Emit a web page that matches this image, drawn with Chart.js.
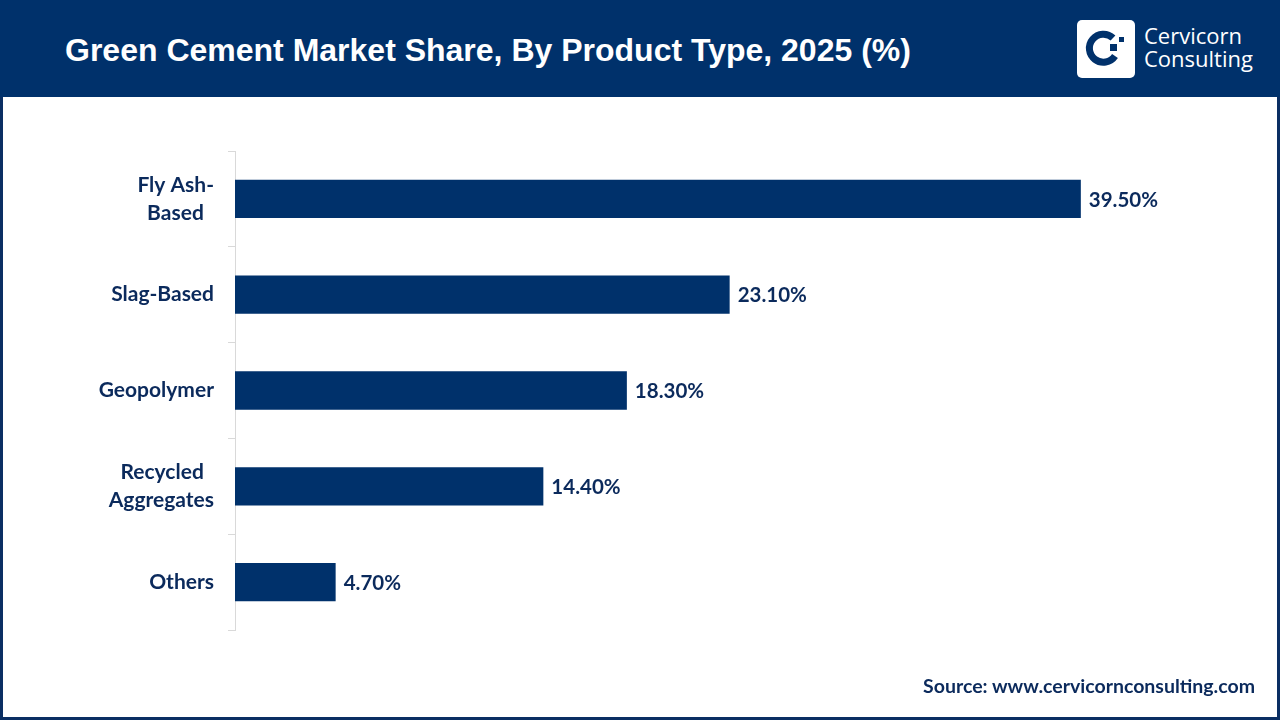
<!DOCTYPE html>
<html>
<head>
<meta charset="utf-8">
<script src="https://cdn.jsdelivr.net/npm/chart.js@4.4.1/dist/chart.umd.min.js"></script>
<style>
  html, body { margin: 0; padding: 0; width: 1280px; height: 720px; overflow: hidden; background: #fff; }
  #frame { position: absolute; left: 0; top: 0; width: 1280px; height: 720px; box-sizing: border-box;
           border: 3px solid #0b2f63; border-top: none; }
  #header { position: absolute; left: 0; top: 0; width: 1280px; height: 97px; background: #00316b; }
  #title { position: absolute; left: 65px; top: 31px; color: #fff; font-family: "Liberation Sans", Arial, sans-serif;
           font-weight: bold; font-size: 32px; line-height: 38px; white-space: nowrap; }
  #logoBox { position: absolute; left: 1077px; top: 20px; width: 58px; height: 58px; background: #fff; border-radius: 5px; }
  #logoText { position: absolute; left: 1144px; top: 24px; color: #fff; font-family: "Open Sans", sans-serif;
              font-size: 22px; line-height: 23px; }
  #source { position: absolute; right: 25px; top: 674px; color: #0b2a5c; font-family: Lato, "Open Sans", sans-serif;
            font-weight: bold; font-size: 19.5px; white-space: nowrap; }
  #wrap { position: absolute; left: 0; top: 97px; width: 1280px; height: 593px; }
</style>
</head>
<body>
<div id="frame"></div>
<div id="header"></div>
<div id="title">Green Cement Market Share, By Product Type, 2025 (%)</div>
<div id="logoBox">
  <svg width="58" height="58" viewBox="0 0 58 58">
    <path d="M36 18 A14 14 0 1 0 38 36" fill="none" stroke="#00316b" stroke-width="7" stroke-linecap="butt"/>
    <rect x="33" y="24" width="7" height="7" fill="#00316b"/>
    <rect x="42" y="17" width="5" height="5" fill="#00316b"/>
  </svg>
</div>
<div id="logoText">Cervicorn<br>Consulting</div>
<div id="wrap"><canvas id="c" width="1280" height="593"></canvas></div>
<div id="source">Source: www.cervicornconsulting.com</div>
<script>
const categories = [["Fly Ash-", "Based  "], "Slag-Based", "Geopolymer", ["Recycled  ", "Aggregates"], "Others"];
const shares = [39.5, 23.1, 18.3, 14.4, 4.7];
const valueLabels = ["39.50%", "23.10%", "18.30%", "14.40%", "4.70%"];

const navy = "#00316b";
const textNavy = "#0b2a5c";

const valueLabelPlugin = {
  id: "valueLabels",
  afterDatasetsDraw(chart) {
    const ctx = chart.ctx;
    const meta = chart.getDatasetMeta(0);
    ctx.save();
    ctx.font = "bold 20.5px Lato, 'Open Sans', sans-serif";
    ctx.fillStyle = textNavy;
    ctx.textAlign = "left";
    ctx.textBaseline = "middle";
    meta.data.forEach((bar, i) => {
      ctx.fillText(valueLabels[i], bar.x + 8, bar.y + 1);
    });
    ctx.restore();
  }
};

new Chart(document.getElementById("c"), {
  type: "bar",
  data: {
    labels: categories,
    datasets: [{
      data: shares,
      backgroundColor: navy,
      borderWidth: 0,
      categoryPercentage: 1,
      barPercentage: 0.4
    }]
  },
  options: {
    indexAxis: "y",
    responsive: false,
    animation: false,
    events: [],
    layout: { padding: { left: 0, right: 30, top: 54, bottom: 60 } },
    plugins: { legend: { display: false }, tooltip: { enabled: false } },
    scales: {
      x: { display: false, min: 0, max: 47.4 },
      y: {
        afterFit(scale) { scale.width = 235; },
        grid: { drawOnChartArea: false, drawTicks: true, tickLength: 7, color: "#d9d9d9", offset: true },
        border: { display: true, color: "#d9d9d9", width: 1 },
        ticks: {
          color: textNavy,
          padding: 14,
          font: { family: "Lato, 'Open Sans', sans-serif", weight: "bold", size: 21, lineHeight: 1.32 }
        }
      }
    }
  },
  plugins: [valueLabelPlugin]
});
</script>
</body>
</html>
